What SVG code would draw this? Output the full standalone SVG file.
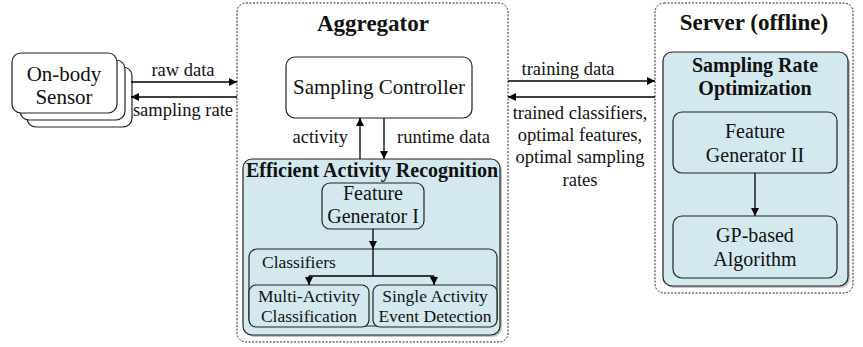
<svg xmlns="http://www.w3.org/2000/svg" width="863" height="347" viewBox="0 0 863 347">
<defs>
<marker id="ah" viewBox="0 0 10 10" refX="10" refY="5" markerWidth="8" markerHeight="8" markerUnits="userSpaceOnUse" orient="auto"><path d="M0,0 L10,5 L0,10 z" fill="#000"/></marker>
<style>
text{font-family:'Liberation Serif','Times New Roman',serif;fill:#111;}
.b{font-weight:bold;}
.m{text-anchor:middle;}
.box{fill:#fff;stroke:#222;stroke-width:1.2;}
.blue{fill:#d3e9ef;stroke:#222;stroke-width:1.2;}
.dash{fill:none;stroke:#222;stroke-width:1;stroke-dasharray:2,1.5;}
.sh{fill:#888;opacity:0.5;}
.lbl{font-size:18.5px;}
</style>
</defs>
<rect width="863" height="347" fill="#fff"/>

<g id="sensor">
<rect class="box" x="27" y="67" width="105" height="60" rx="9"/>
<rect class="box" x="20" y="60" width="105" height="60" rx="9"/>
<rect class="box" x="12" y="53" width="105" height="60" rx="9"/>
<text class="m" x="64" y="81" font-size="21">On-body</text>
<text class="m" x="64" y="104" font-size="21">Sensor</text>
</g>

<g id="aggregator">
<rect class="dash" x="237" y="3" width="271" height="339" rx="9"/>
<text class="m b" x="373" y="31" font-size="23">Aggregator</text>
</g>

<g id="sampling-controller">
<rect class="box" x="286" y="57" width="186" height="61" rx="9"/>
<text class="m" x="379" y="94" font-size="21">Sampling Controller</text>
</g>

<g id="ear">
<rect class="sh" x="245" y="161" width="257" height="176" rx="9"/>
<rect class="blue" x="243" y="159" width="257" height="176" rx="9"/>
<text class="m b" x="372" y="177" font-size="20">Efficient Activity Recognition</text>
</g>

<g id="feature-gen-1">
<rect class="blue" x="322" y="183" width="102" height="46" rx="8"/>
<text class="m" x="373" y="200" font-size="20">Feature</text>
<text class="m" x="373" y="223" font-size="20">Generator I</text>
</g>

<g id="classifiers">
<rect class="blue" x="249" y="249" width="248" height="77" rx="8"/>
<text x="262" y="268" font-size="17.5">Classifiers</text>
</g>

<g id="multi-activity">
<rect class="blue" x="249" y="285" width="120" height="42" rx="7"/>
<text class="m" x="309" y="302" font-size="17.5">Multi-Activity</text>
<text class="m" x="309" y="322" font-size="17.5">Classification</text>
</g>

<g id="single-activity">
<rect class="blue" x="373" y="285" width="124" height="42" rx="7"/>
<text class="m" x="435" y="302" font-size="17.5">Single Activity</text>
<text class="m" x="435" y="322" font-size="17.5">Event Detection</text>
</g>

<g id="server">
<rect class="dash" x="655" y="3" width="198" height="290" rx="9"/>
<text class="m b" x="754" y="30" font-size="23">Server (offline)</text>
</g>

<g id="sro">
<rect class="sh" x="665" y="54" width="185" height="234" rx="9"/>
<rect class="blue" x="663" y="52" width="185" height="234" rx="9"/>
<text class="m b" x="755" y="72" font-size="20">Sampling Rate</text>
<text class="m b" x="755" y="95" font-size="20">Optimization</text>
</g>

<g id="feature-gen-2">
<rect class="blue" x="673" y="112" width="164" height="61" rx="9"/>
<text class="m" x="755" y="138" font-size="20">Feature</text>
<text class="m" x="755" y="162" font-size="20">Generator II</text>
</g>

<g id="gp-algorithm">
<rect class="blue" x="673" y="216" width="164" height="62" rx="9"/>
<text class="m" x="755" y="242" font-size="20">GP-based</text>
<text class="m" x="755" y="266" font-size="20">Algorithm</text>
</g>

<g id="connectors" stroke="#000" stroke-width="1.3" fill="none">
<line x1="131" y1="82" x2="237" y2="82" marker-end="url(#ah)"/>
<line x1="237" y1="97" x2="131" y2="97" marker-end="url(#ah)"/>
<line x1="360" y1="159" x2="360" y2="118" marker-end="url(#ah)"/>
<line x1="384" y1="118" x2="384" y2="159" marker-end="url(#ah)"/>
<line x1="373" y1="229" x2="373" y2="249" marker-end="url(#ah)"/>
<line x1="373" y1="249" x2="373" y2="276"/>
<line x1="309" y1="276" x2="434" y2="276"/>
<line x1="309" y1="276" x2="309" y2="285" marker-end="url(#ah)"/>
<line x1="434" y1="276" x2="434" y2="285" marker-end="url(#ah)"/>
<line x1="508" y1="81" x2="655" y2="81" marker-end="url(#ah)"/>
<line x1="655" y1="97" x2="508" y2="97" marker-end="url(#ah)"/>
<line x1="755" y1="173" x2="755" y2="216" marker-end="url(#ah)"/>
</g>
<g id="connector-labels">
<text class="m lbl" x="183" y="76">raw data</text>
<text class="m lbl" x="183" y="116">sampling rate</text>
<text class="lbl" x="348" y="143" text-anchor="end">activity</text>
<text class="lbl" x="397" y="143">runtime data</text>
<text class="m lbl" x="568" y="75">training data</text>
<text class="m lbl" x="580" y="119">trained classifiers,</text>
<text class="m lbl" x="580" y="141">optimal features,</text>
<text class="m lbl" x="580" y="163">optimal sampling</text>
<text class="m lbl" x="580" y="186">rates</text>
</g>
</svg>
